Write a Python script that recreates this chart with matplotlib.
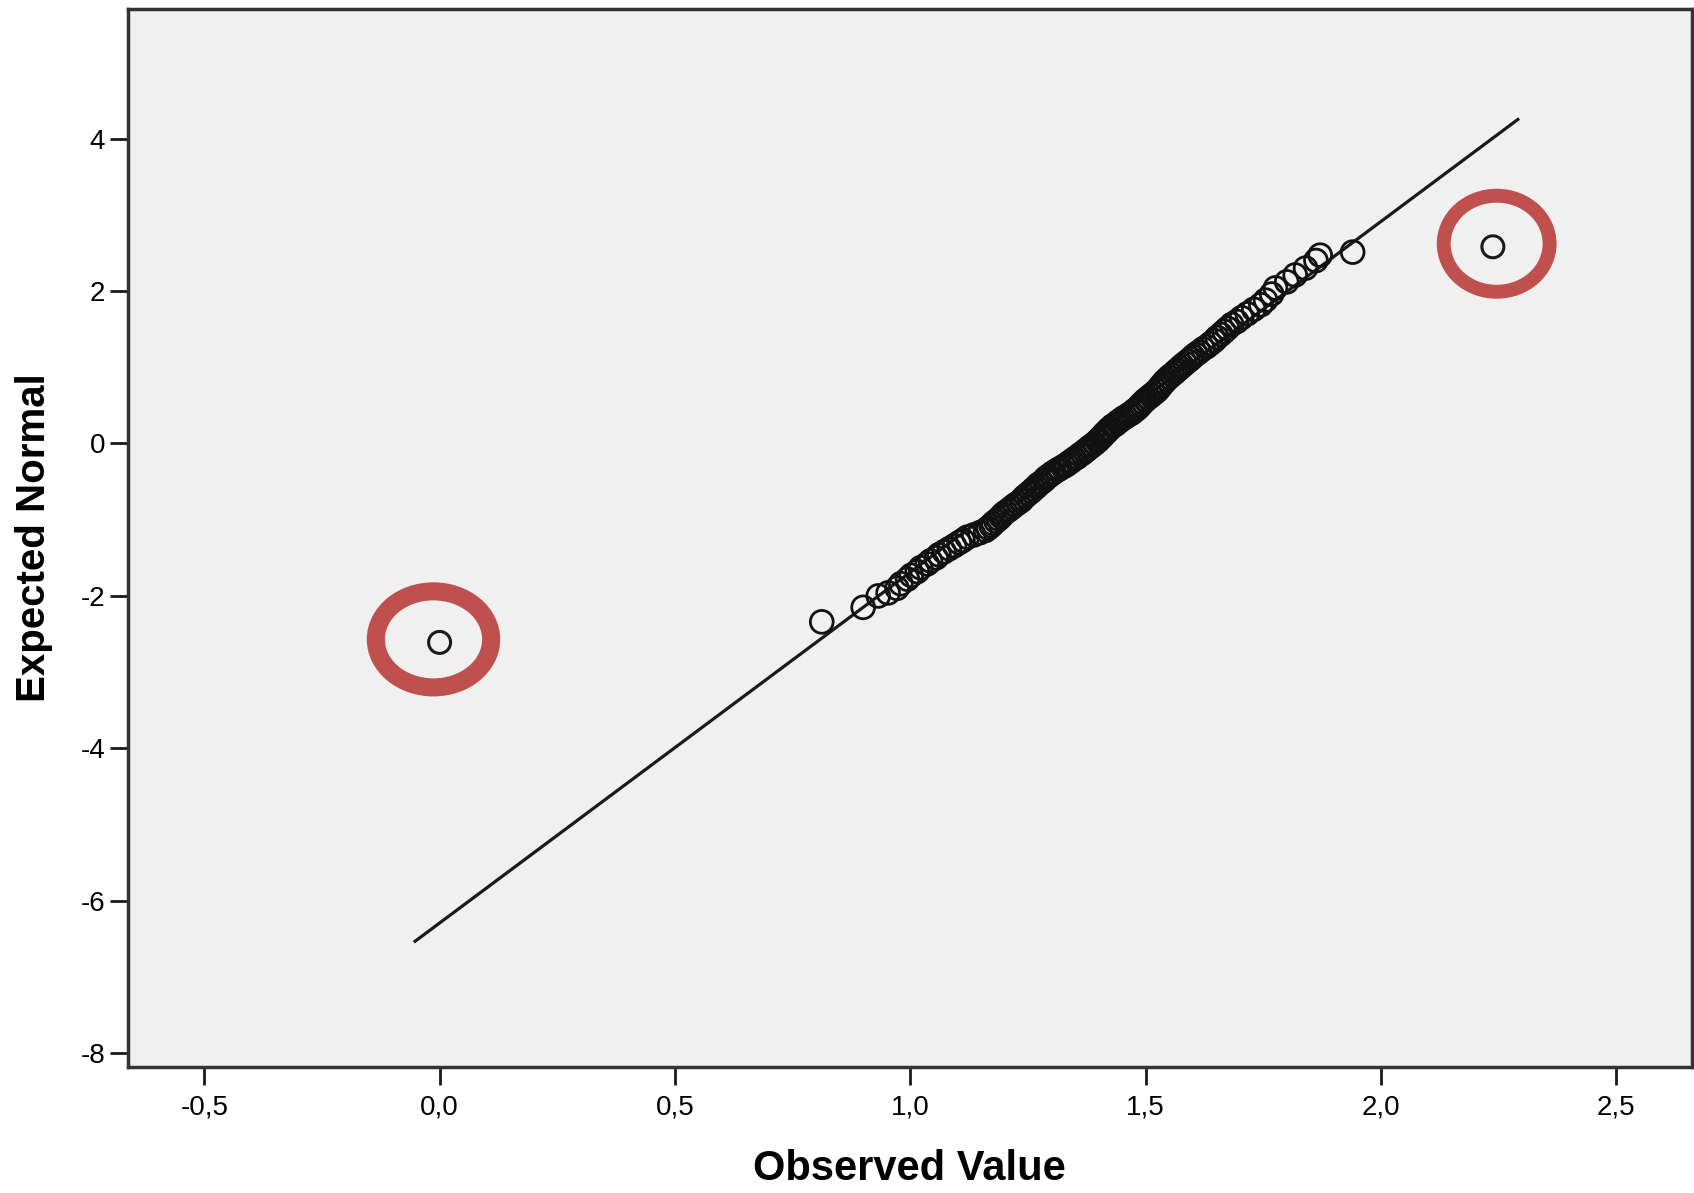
import numpy as np
import matplotlib.pyplot as plt
from matplotlib.patches import Ellipse
from matplotlib.ticker import FuncFormatter

plt.rcParams['font.family'] = ['Liberation Sans', 'DejaVu Sans']
plt.rcParams['axes.unicode_minus'] = False

observed = [0.812, 0.900, 0.932, 0.953, 0.972, 0.980, 0.994, 1.002, 1.015, 1.022,
            1.036, 1.043, 1.055, 1.061, 1.072, 1.083, 1.094, 1.104, 1.112, 1.121,
            1.135, 1.148, 1.160, 1.166, 1.172, 1.176, 1.182, 1.188, 1.193, 1.197,
            1.203, 1.210, 1.216, 1.222, 1.229, 1.236, 1.240, 1.245, 1.251, 1.257,
            1.262, 1.268, 1.272, 1.279, 1.285, 1.289, 1.294, 1.300, 1.305, 1.312,
            1.318, 1.326, 1.332, 1.338, 1.343, 1.349, 1.355, 1.360, 1.366, 1.371,
            1.376, 1.381, 1.386, 1.392, 1.398, 1.401, 1.406, 1.409, 1.413, 1.417,
            1.421, 1.425, 1.430, 1.436, 1.441, 1.446, 1.452, 1.458, 1.465, 1.471,
            1.476, 1.481, 1.486, 1.490, 1.495, 1.500, 1.506, 1.512, 1.518, 1.524,
            1.528, 1.532, 1.536, 1.540, 1.545, 1.550, 1.556, 1.562, 1.567, 1.573,
            1.578, 1.584, 1.590, 1.596, 1.601, 1.607, 1.614, 1.622, 1.630, 1.638,
            1.646, 1.652, 1.660, 1.667, 1.674, 1.683, 1.694, 1.704, 1.716, 1.730,
            1.745, 1.755, 1.768, 1.776, 1.800, 1.818, 1.840, 1.862, 1.871, 1.940]
expected = [-2.34, -2.15, -2.00, -1.96, -1.90, -1.84, -1.78, -1.73, -1.68, -1.63,
            -1.58, -1.54, -1.50, -1.46, -1.42, -1.38, -1.34, -1.30, -1.27, -1.23,
            -1.20, -1.17, -1.14, -1.11, -1.08, -1.05, -1.02, -0.99, -0.96, -0.93,
            -0.90, -0.87, -0.84, -0.81, -0.78, -0.75, -0.72, -0.69, -0.66, -0.63,
            -0.60, -0.57, -0.54, -0.51, -0.48, -0.45, -0.43, -0.40, -0.38, -0.35,
            -0.33, -0.30, -0.28, -0.25, -0.23, -0.20, -0.18, -0.15, -0.13, -0.10,
            -0.08, -0.05, -0.03, 0.00, 0.03, 0.05, 0.08, 0.10, 0.13, 0.15,
            0.18, 0.20, 0.23, 0.25, 0.28, 0.30, 0.33, 0.35, 0.38, 0.40,
            0.43, 0.45, 0.48, 0.51, 0.54, 0.57, 0.60, 0.63, 0.66, 0.69,
            0.72, 0.75, 0.78, 0.81, 0.84, 0.87, 0.90, 0.93, 0.96, 0.99,
            1.02, 1.05, 1.08, 1.11, 1.14, 1.17, 1.20, 1.24, 1.27, 1.31,
            1.35, 1.39, 1.43, 1.47, 1.51, 1.56, 1.60, 1.65, 1.70, 1.76,
            1.82, 1.88, 1.96, 2.04, 2.12, 2.21, 2.30, 2.40, 2.47, 2.51]

# the two outliers circled in red
outlier_x = [0.0, 2.238]
outlier_y = [-2.61, 2.58]

# reference line
line_x = [-0.052, 2.291]
line_y = [-6.53, 4.25]

xticks = [-0.5, 0.0, 0.5, 1.0, 1.5, 2.0, 2.5]
yticks = [-8, -6, -4, -2, 0, 2, 4]

fig = plt.figure(figsize=(16.94, 11.93), dpi=100)
ax = fig.add_axes([0.0753, 0.1056, 0.9235, 0.8869])
ax.set_facecolor('#f0f0f0')

ax.plot(line_x, line_y, color='#1a1a1a', lw=2.3, zorder=2)
ax.scatter(observed, expected, s=270, facecolors='none', edgecolors='#111111',
           linewidths=2.0, zorder=3)
ax.scatter(outlier_x, outlier_y, s=250, facecolors='none', edgecolors='#1a1a1a',
           linewidths=2.2, zorder=3)

# red highlight rings round the outliers
ring_w = [0.245, 0.225]
ring_h = [1.26, 1.26]
ring_lw = [13, 10]
ring_dx = [-0.013, 0.008]
for i in range(len(outlier_x)):
    ax.add_patch(Ellipse((outlier_x[i] + ring_dx[i], outlier_y[i] + 0.04), ring_w[i], ring_h[i],
                         fill=False, edgecolor='#c0504d', lw=ring_lw[i], zorder=4))

ax.set_xlim(-0.663, 2.661)
ax.set_ylim(-8.18, 5.70)
ax.set_xticks(xticks)
ax.set_yticks(yticks)
ax.xaxis.set_major_formatter(FuncFormatter(lambda v, p: ('%.1f' % v).replace('.', ',')))
ax.yaxis.set_major_formatter(FuncFormatter(lambda v, p: '%d' % v))
ax.tick_params(axis='both', labelsize=20, length=13, width=2, color='#1a1a1a')
ax.tick_params(axis='x', pad=7)
ax.tick_params(axis='y', pad=3)

for s in ax.spines.values():
    s.set_color('#333333')
    s.set_linewidth(2.5)

ax.set_xlabel('Observed Value', fontsize=30, fontweight='bold', labelpad=20)
ax.set_ylabel('Expected Normal', fontsize=29, fontweight='bold', labelpad=20)

plt.savefig('out.png', dpi=100)
